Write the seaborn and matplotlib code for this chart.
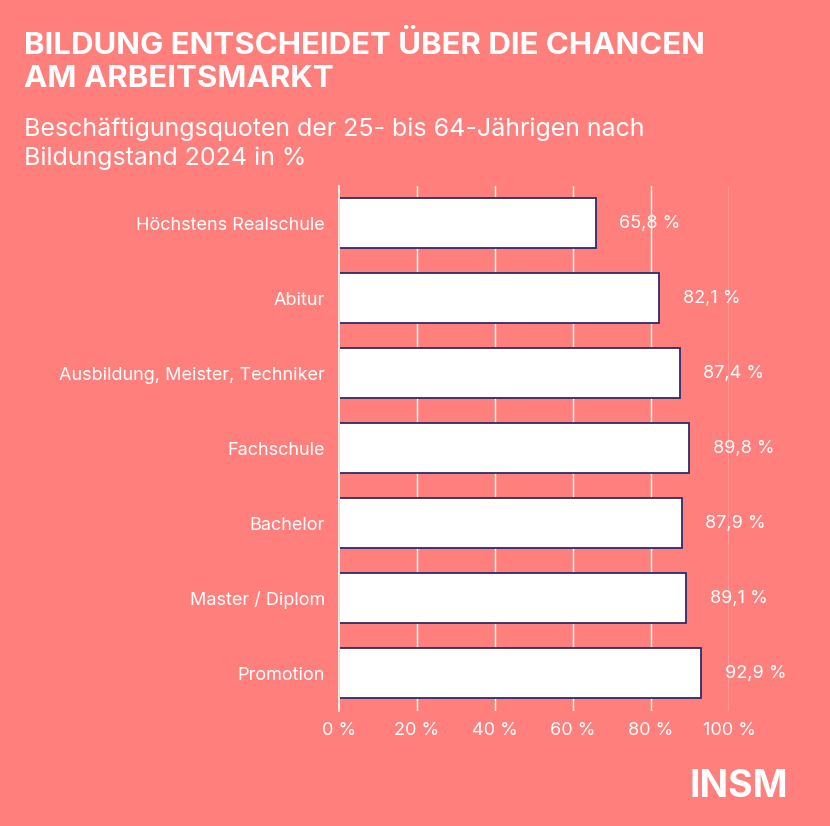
import matplotlib
matplotlib.use("Agg")
import matplotlib.pyplot as plt
import seaborn as sns
import pandas as pd

categories = ["Höchstens Realschule", "Abitur", "Ausbildung, Meister, Techniker",
              "Fachschule", "Bachelor", "Master / Diplom", "Promotion"]
values = [65.8, 82.1, 87.4, 89.8, 87.9, 89.1, 92.9]
ticks = [0, 20, 40, 60, 80, 100]

bg = "#FF7F7C"
navy = "#2E2A6B"

sns.set_style("white")
plt.rcParams['font.family'] = ['Inter', 'DejaVu Sans']

df = pd.DataFrame({"cat": categories, "val": values})

fig = plt.figure(figsize=(8.30, 8.26), dpi=100, facecolor=bg)
ax = fig.add_axes([0.4084, 0.1398, 0.4699, 0.6356], facecolor=bg)

ax.set_axisbelow(True)
for t in ticks[1:]:
    ax.axvline(t, color="white", lw=1, zorder=0)

sns.barplot(data=df, x="val", y="cat", orient="h", color="white",
            edgecolor=navy, linewidth=1.3, width=0.67, ax=ax, zorder=2)

for i, v in enumerate(values):
    ax.text(v + 6, i, f"{v:.1f} %".replace(".", ","), va="center", ha="left",
            color="white", fontsize=13, zorder=3)

ax.set_xlim(0, 100)
ax.set_ylim(6.5, -0.5)
ax.set_xticks(ticks)
ax.set_xticklabels([f"{t} %" for t in ticks], color="white", fontsize=13)
ax.tick_params(axis="y", colors="white", labelsize=13, length=0, pad=10)
ax.tick_params(axis="x", length=0, pad=8)
ax.set_xlabel("")
ax.set_ylabel("")
for s in ["top", "right", "bottom"]:
    ax.spines[s].set_visible(False)
ax.spines["left"].set_color("white")
ax.spines["left"].set_linewidth(1.2)

fig.text(0.029, 0.962, "BILDUNG ENTSCHEIDET ÜBER DIE CHANCEN\nAM ARBEITSMARKT",
         color="white", fontsize=22.5, fontweight="bold", va="top", linespacing=1.2)
fig.text(0.029, 0.858, "Beschäftigungsquoten der 25- bis 64-Jährigen nach\nBildungstand 2024 in %",
         color="white", fontsize=18, va="top", linespacing=1.3)
fig.text(0.95, 0.025, "INSM", color="white", fontsize=27, fontweight="bold",
         ha="right", va="bottom")

fig.savefig("out.png", dpi=100, facecolor=bg)
